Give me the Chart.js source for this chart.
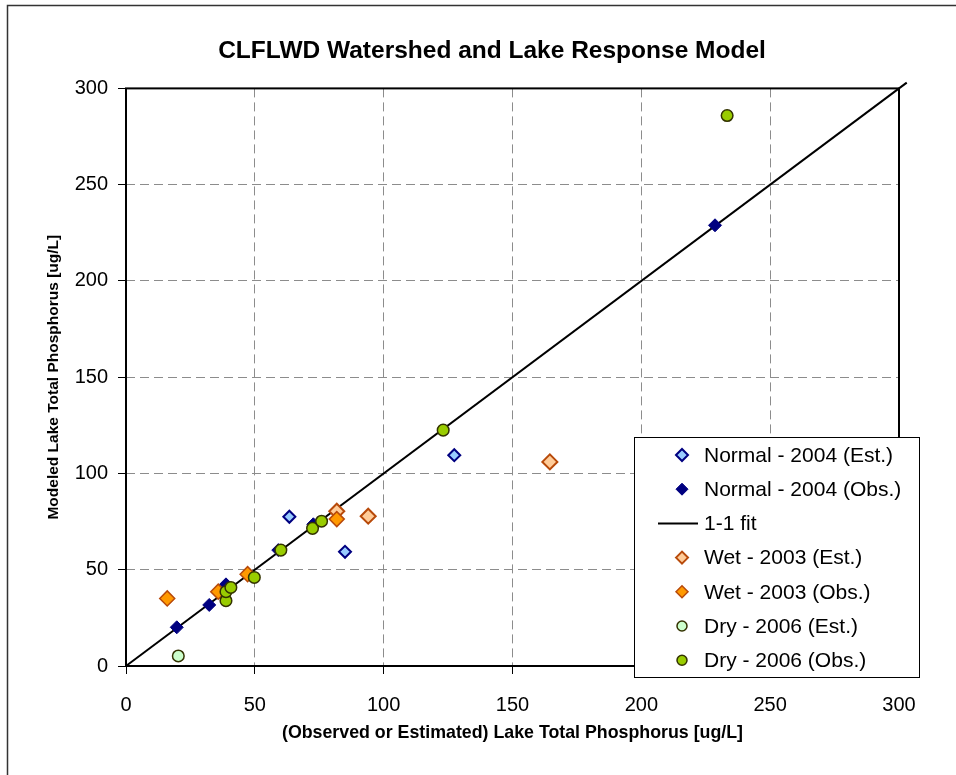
<!DOCTYPE html>
<html>
<head>
<meta charset="utf-8">
<title>CLFLWD Watershed and Lake Response Model</title>
<script src="https://cdn.jsdelivr.net/npm/chart.js@4.4.1/dist/chart.umd.min.js"></script>
<style>
    html, body { margin: 0; padding: 0; background: #fff; overflow: hidden; }
    #wrap { width: 956px; height: 775px; }
</style>
</head>
<body>
<div id="wrap"><canvas id="myChart" width="956" height="775"></canvas></div>
<script>
// values
const normalEstX = [63.4, 85.0, 127.4];
const normalEstY = [77.5, 59.3, 109.5];
const normalObsX = [19.7, 32.3, 38.8, 59.1, 72.7, 228.6];
const normalObsY = [20.1, 31.7, 42.4, 60.2, 73.6, 228.9];
const fitX = [0, 303];
const fitY = [0, 303];
const wetEstX = [81.8, 94.0, 164.5];
const wetEstY = [80.4, 77.8, 106.0];
const wetObsX = [16.0, 35.8, 47.2, 81.8];
const wetObsY = [35.1, 38.6, 47.7, 76.3];
const dryEstX = [20.3];
const dryEstY = [5.2];
const dryObsX = [38.8, 38.8, 40.7, 49.8, 60.1, 72.4, 75.9, 123.1, 233.3];
const dryObsY = [33.9, 38.6, 40.8, 46.0, 60.2, 71.5, 75.2, 122.5, 285.9];
const axisTicks = [0, 50, 100, 150, 200, 250, 300];

const fam = "'Liberation Sans', Arial, Helvetica, sans-serif";

function pts(xs, ys) {
    return xs.map(function (x, i) { return { x: x, y: ys[i] }; });
}

function marker(ctx, style, x, y, r) {
    ctx.beginPath();
    if (style === 'circle') {
        ctx.arc(x, y, r, 0, Math.PI * 2);
    } else {
        ctx.moveTo(x - r, y);
        ctx.lineTo(x, y - r);
        ctx.lineTo(x + r, y);
        ctx.lineTo(x, y + r);
        ctx.closePath();
    }
    ctx.fill();
    ctx.stroke();
}

// plot area frame + outer chart border
const framePlugin = {
    id: 'frame',
    beforeDraw(chart) {
        const ctx = chart.ctx;
        ctx.save();
        ctx.strokeStyle = '#333';
        ctx.lineWidth = 1.5;
        ctx.beginPath();
        ctx.moveTo(7.5, chart.height);
        ctx.lineTo(7.5, 5.5);
        ctx.lineTo(chart.width, 5.5);
        ctx.stroke();
        ctx.restore();
    },
    beforeDatasetsDraw(chart) {
        const a = chart.chartArea;
        const ctx = chart.ctx;
        ctx.save();
        ctx.strokeStyle = '#000';
        ctx.lineWidth = 2;
        ctx.strokeRect(a.left, a.top, a.right - a.left, a.bottom - a.top);
        ctx.restore();
    }
};

// boxed legend sitting over the lower right corner, like the Excel one
const legendPlugin = {
    id: 'boxLegend',
    afterDraw(chart) {
        const ctx = chart.ctx;
        const sets = chart.data.datasets;
        const bx = 634, by = 437, bw = 285, bh = 240;
        ctx.save();
        ctx.fillStyle = '#fff';
        ctx.fillRect(bx, by, bw, bh);
        ctx.strokeStyle = '#000';
        ctx.lineWidth = 1;
        ctx.strokeRect(bx + 0.5, by + 0.5, bw, bh);
        ctx.font = '21px ' + fam;
        ctx.textBaseline = 'middle';
        ctx.textAlign = 'left';
        sets.forEach(function (ds, i) {
            const y = by + 18 + i * 34.2;
            if (ds.showLine) {
                ctx.strokeStyle = ds.borderColor;
                ctx.lineWidth = ds.borderWidth;
                ctx.beginPath();
                ctx.moveTo(658, y);
                ctx.lineTo(698, y);
                ctx.stroke();
            } else {
                ctx.fillStyle = ds.backgroundColor;
                ctx.strokeStyle = ds.borderColor;
                ctx.lineWidth = ds.pointBorderWidth;
                marker(ctx, ds.pointStyle, 682, y, ds.pointStyle === 'circle' ? 5 : 6);
            }
            ctx.fillStyle = '#000';
            ctx.fillText(ds.label, 704, y + 1);
        });
        ctx.restore();
    }
};

const ctx1 = document.getElementById('myChart');

new Chart(ctx1, {
    type: 'scatter',
    data: {
        datasets: [{
            label: 'Normal - 2004 (Est.)',
            data: pts(normalEstX, normalEstY),
            pointStyle: 'rectRot',
            pointRadius: 6,
            pointBorderWidth: 2,
            backgroundColor: '#99CCFF',
            borderColor: '#000080',
            order: 5
        }, {
            label: 'Normal - 2004 (Obs.)',
            data: pts(normalObsX, normalObsY),
            pointStyle: 'rectRot',
            pointRadius: 6.5,
            pointBorderWidth: 1,
            backgroundColor: '#000080',
            borderColor: '#000080',
            order: 4
        }, {
            label: '1-1 fit',
            data: pts(fitX, fitY),
            showLine: true,
            pointRadius: 0,
            borderColor: '#000',
            borderWidth: 2,
            clip: false,
            order: 10
        }, {
            label: 'Wet - 2003 (Est.)',
            data: pts(wetEstX, wetEstY),
            pointStyle: 'rectRot',
            pointRadius: 7.5,
            pointBorderWidth: 2,
            backgroundColor: '#FFCC99',
            borderColor: '#B84A0A',
            order: 3
        }, {
            label: 'Wet - 2003 (Obs.)',
            data: pts(wetObsX, wetObsY),
            pointStyle: 'rectRot',
            pointRadius: 7.5,
            pointBorderWidth: 1.5,
            backgroundColor: '#FF9900',
            borderColor: '#B84A0A',
            order: 2
        }, {
            label: 'Dry - 2006 (Est.)',
            data: pts(dryEstX, dryEstY),
            pointStyle: 'circle',
            pointRadius: 5.8,
            pointBorderWidth: 1.5,
            backgroundColor: '#CCFFCC',
            borderColor: '#333300',
            order: 1
        }, {
            label: 'Dry - 2006 (Obs.)',
            data: pts(dryObsX, dryObsY),
            pointStyle: 'circle',
            pointRadius: 5.8,
            pointBorderWidth: 1.5,
            backgroundColor: '#99CC00',
            borderColor: '#333300',
            order: 0
        }]
    },
    options: {
        responsive: false,
        animation: false,
        events: [],
        layout: { padding: { left: 28, right: 0, top: 0, bottom: 0 } },
        plugins: {
            legend: { display: false },
            tooltip: { enabled: false },
            title: {
                display: true,
                text: 'CLFLWD Watershed and Lake Response Model',
                color: '#000',
                font: { family: fam, size: 24.5, weight: 'bold' },
                padding: { top: 37, bottom: 22 }
            }
        },
        scales: {
            x: {
                type: 'linear',
                position: 'bottom',
                min: axisTicks[0],
                max: axisTicks[axisTicks.length - 1],
                afterBuildTicks: function (s) { s.ticks = axisTicks.map(function (v) { return { value: v }; }); },
                ticks: { color: '#000', font: { family: fam, size: 20 }, padding: 19, maxRotation: 0 },
                grid: { color: '#8c8c8c', tickColor: '#000', tickLength: 8, tickWidth: 1 },
                border: { display: false, dash: [9, 5] },
                title: {
                    display: true,
                    text: '(Observed or Estimated) Lake Total Phosphorus [ug/L]',
                    color: '#000',
                    font: { family: fam, size: 17.8, weight: 'bold' },
                    padding: { top: 0, bottom: 31 }
                },
                afterFit: function (s) { s.height = 109; }
            },
            y: {
                type: 'linear',
                position: 'left',
                min: axisTicks[0],
                max: axisTicks[axisTicks.length - 1],
                afterBuildTicks: function (s) { s.ticks = axisTicks.map(function (v) { return { value: v }; }); },
                ticks: { color: '#000', font: { family: fam, size: 20 }, padding: 10 },
                grid: { color: '#8c8c8c', tickColor: '#000', tickLength: 8, tickWidth: 1 },
                border: { display: false, dash: [9, 5] },
                title: {
                    display: true,
                    text: 'Modeled Lake Total Phosphorus [ug/L]',
                    color: '#000',
                    font: { family: fam, size: 15.5, weight: 'bold' },
                    padding: { top: 16, bottom: 0 }
                },
                afterFit: function (s) { s.width = 98; }
            },
            // empty right axis, only keeps the room on the right of the plot
            yr: {
                type: 'linear',
                position: 'right',
                min: 0,
                max: 300,
                ticks: { display: false },
                grid: { display: false, drawTicks: false },
                border: { display: false },
                afterFit: function (s) { s.width = 57; }
            }
        }
    },
    plugins: [framePlugin, legendPlugin]
});
</script>
</body>
</html>
